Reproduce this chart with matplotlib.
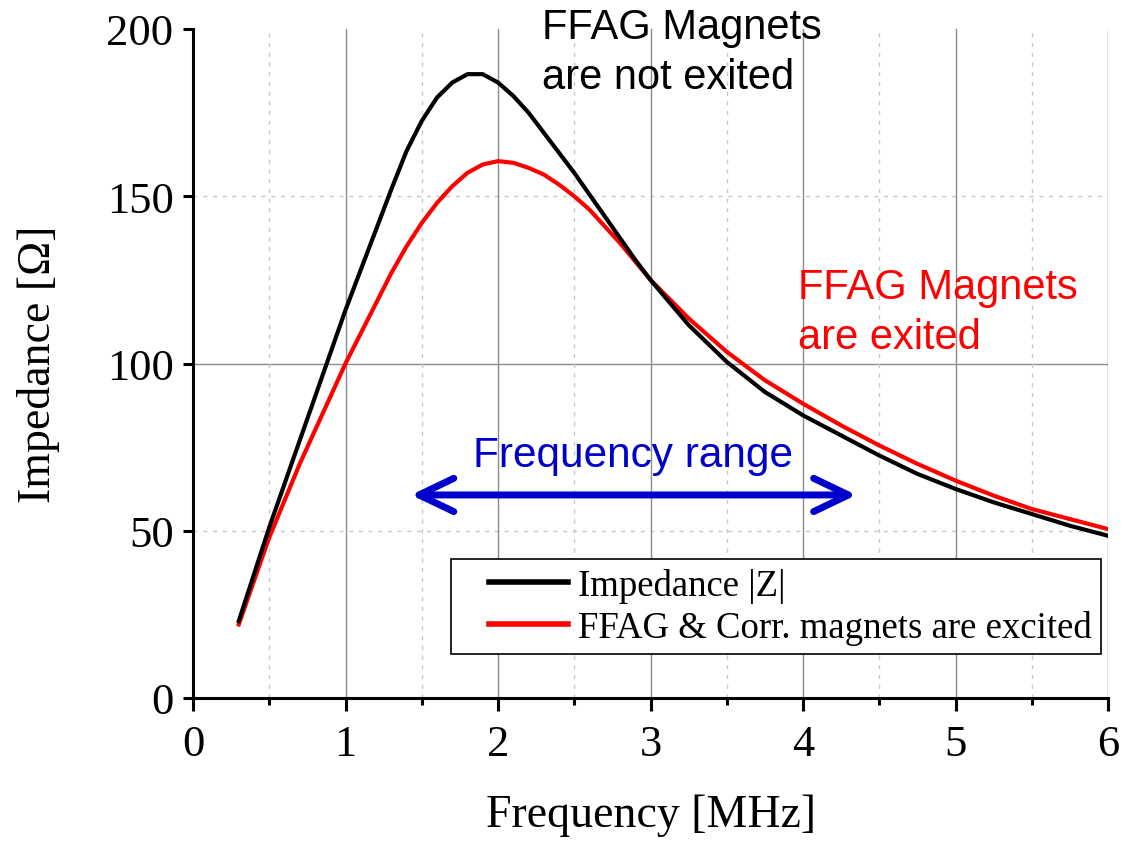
import matplotlib
matplotlib.use("Agg")
import matplotlib.pyplot as plt
from matplotlib.ticker import MultipleLocator
from matplotlib.legend_handler import HandlerLine2D

# frequency [MHz] and impedance [Ohm]
freq = [0.3, 0.4, 0.5, 0.6, 0.7, 0.8, 0.9, 1.0, 1.1, 1.2, 1.3, 1.4, 1.5, 1.6,
        1.7, 1.8, 1.9, 2.0, 2.1, 2.2, 2.3, 2.4, 2.5, 2.6, 2.7, 2.8, 2.9, 3.0,
        3.25, 3.5, 3.75, 4.0, 4.25, 4.5, 4.75, 5.0, 5.25, 5.5, 5.75, 6.0]
z_not_excited = [23, 37, 51, 64, 77, 90, 103, 116, 128, 140, 152, 163.5, 172.5, 179.5,
                 184, 186.5, 186.5, 184, 180, 175, 169, 163, 157, 150.5, 144, 137.5, 131, 125,
                 111.5, 100.5, 91.5, 84.5, 78.5, 72.5, 67, 62.5, 58.5, 55, 51.5, 48.5]
z_excited = [22, 35, 48, 59, 70, 80, 90, 100, 109, 118, 127, 135, 142, 148,
             153, 157, 159.5, 160.5, 160, 158.5, 156.5, 153.5, 150, 146, 141, 136, 130.5, 125,
             113.5, 103.5, 95, 88, 81.5, 75.5, 70, 65, 60.5, 56.5, 53.5, 50.5]

labels = ["Impedance |Z|", "FFAG & Corr. magnets are excited"]
range_lo, range_hi, range_y = 1.43, 4.35, 60.7

serif = "Liberation Serif"
sans = "Liberation Sans"

fig = plt.figure(figsize=(11.21, 8.45), dpi=100)
ax = fig.add_axes([193 / 1121, 1 - 699 / 845, (1108 - 193) / 1121, (699 - 30) / 845])

ax.plot(freq, z_not_excited, color="black", lw=3, label=labels[0], zorder=4,
        solid_joinstyle="round")
ax.plot(freq, z_excited, color="#ff0000", lw=3, label=labels[1], zorder=3,
        solid_joinstyle="round")

ax.set_xlim(0, 6)
ax.set_ylim(0, 200)
ax.xaxis.set_major_locator(MultipleLocator(1))
ax.xaxis.set_minor_locator(MultipleLocator(0.5))
ax.yaxis.set_major_locator(MultipleLocator(50))
ax.yaxis.set_minor_locator(MultipleLocator(50))

# grid: solid on whole MHz, dotted on the halves, solid at 100 Ohm
ax.grid(axis="x", which="major", color="#8c8c8c", lw=1.0, ls="-", zorder=1)
ax.grid(axis="x", which="minor", color="#c8c8c8", lw=1.0, ls=(0, (3, 4)), zorder=1)
gl = ax.xaxis.get_gridlines()
gl[0].set_visible(False)
gl[-1].set_visible(False)
for v in (50, 150):
    ax.axhline(v, color="#c8c8c8", lw=1.0, ls=(0, (3, 4)), zorder=1)
ax.axhline(100, color="#8c8c8c", lw=1.0, zorder=1)

for s in ("top", "right"):
    ax.spines[s].set_visible(False)
for s in ("left", "bottom"):
    ax.spines[s].set_linewidth(2.2)

ax.tick_params(axis="x", which="major", direction="out", length=9, width=2.2, pad=10, labelsize=32)
ax.tick_params(axis="x", which="minor", direction="out", length=5, width=2.2)
ax.tick_params(axis="y", which="major", direction="out", length=7, width=2.2, pad=7, labelsize=32)
ax.tick_params(axis="y", which="minor", length=0)
for t in ax.get_xticklabels() + ax.get_yticklabels():
    t.set_fontfamily(serif)

ax.set_xlabel("Frequency [MHz]", fontsize=33, family=serif)
ax.set_ylabel("Impedance [\u03a9]", fontsize=33, family=serif)
ax.xaxis.set_label_coords(0.5, -0.143)
ax.yaxis.set_label_coords(-0.145, 0.5)

# annotations
ax.text(2.29, 206.5, "FFAG Magnets\nare not exited", fontsize=30, family=sans,
        color="black", ha="left", va="top", linespacing=1.33, clip_on=False)
ax.text(3.97, 128.8, "FFAG Magnets\nare exited", fontsize=30, family=sans,
        color="#ff0000", ha="left", va="top", linespacing=1.33)
ax.annotate("", xy=(range_lo, range_y), xytext=(range_hi, range_y),
            arrowprops=dict(arrowstyle="<->,head_length=2.5,head_width=1.2",
                            lw=5, color="#0000cc", shrinkA=0, shrinkB=0,
                            mutation_scale=10, joinstyle="round", capstyle="round"),
            zorder=5)
ax.text((range_lo + range_hi) / 2 - 0.005, 69.5, "Frequency range", fontsize=30.5,
        family=sans, color="#0000cc", ha="center", va="baseline")

fs_leg = 26.5
leg = ax.legend(loc="lower right", bbox_to_anchor=(1101 / 1121, 1 - 655 / 845),
                bbox_transform=fig.transFigure, borderaxespad=0,
                prop={"family": serif, "size": fs_leg}, frameon=True, fancybox=False,
                edgecolor="black", framealpha=1, handlelength=3.72, handletextpad=-0.51,
                borderpad=0.25, labelspacing=0.19, numpoints=2,
                handler_map={plt.Line2D: HandlerLine2D(marker_pad=0.79)})
leg.get_frame().set_linewidth(1.2)
for h in leg.get_lines():
    h.set_linewidth(4)

fig.savefig("out.png", dpi=100)
